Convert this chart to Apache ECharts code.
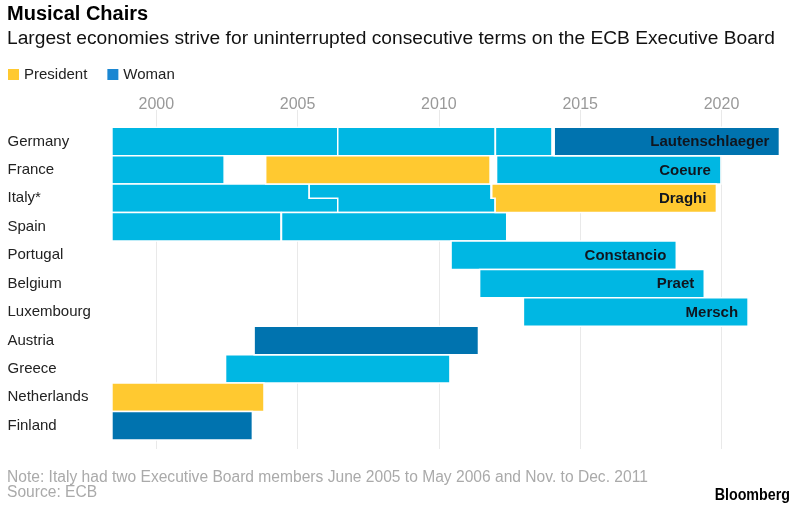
<!DOCTYPE html>
<html>
<head>
<meta charset="utf-8">
<script src="https://cdn.jsdelivr.net/npm/echarts@6/dist/echarts.min.js"></script>
<style>html,body{margin:0;padding:0;background:#fff}#c{width:800px;height:508px}</style>
</head>
<body>
<div id="c"></div>
<script>
const countries = ['Germany','France','Italy*','Spain','Portugal','Belgium','Luxembourg','Austria','Greece','Netherlands','Finland'];
const yearTicks = [2000, 2005, 2010, 2015, 2020];
// one entry per board member term
const segRow    = [0, 0, 0, 0, 1, 1, 1, 2, 2, 2, 3, 3, 4, 5, 6, 7, 8, 9, 10];
const segStart  = [1998.43, 2006.42, 2012.0, 2014.08, 1998.43, 2003.87, 2012.04, 1998.43, 2005.41, 2011.87, 1998.43, 2004.43, 2010.43, 2011.44, 2012.99, 2003.46, 2002.45, 1998.43, 1998.43];
const segEnd    = [2006.42, 2011.99, 2014.0, 2022.05, 2002.4, 2011.81, 2019.98, 2005.41, 2011.84, 2019.82, 2004.41, 2012.4, 2018.4, 2019.39, 2020.94, 2011.4, 2010.39, 2003.81, 2003.4];
// Italy overlaps: lower half of the row may start/end at other dates (null = same as upper half)
const segStartLow = [null, null, null, null, null, null, null, null, 2006.42, 2011.99, null, null, null, null, null, null, null, null, null];
const segEndLow   = [null, null, null, null, null, null, null, 2006.42, 2011.99, null, null, null, null, null, null, null, null, null, null];
const segRole   = ['m','m','m','w','m','p','m','m','m','p','m','m','m','m','m','w','m','p','w'];
const segLabel  = ['','','','Lautenschlaeger','','','Coeure','','','Draghi','','','Constancio','Praet','Mersch','','','',''];

const COLORS = { m: '#00B7E3', p: '#FFC930', w: '#0073AF' };

function dataFor(role) {
  const out = [];
  for (let i = 0; i < segRow.length; i++) {
    if (segRole[i] !== role) continue;
    const s = segStart[i], e = segEnd[i];
    const sl = segStartLow[i] == null ? s : segStartLow[i];
    const el = segEndLow[i] == null ? e : segEndLow[i];
    out.push([s, segRow[i], e, sl, el, segLabel[i]]);
  }
  return out;
}

function renderItem(params, api) {
  const row = api.value(1);
  const pS = api.coord([api.value(0), row]);
  const pE = api.coord([api.value(2), row]);
  const pSL = api.coord([api.value(3), row]);
  const pEL = api.coord([api.value(4), row]);
  const h = api.size([0, 1])[1];
  const yc = pS[1];
  const top = yc - h / 2, bot = yc + h / 2;
  const color = api.visual('color');
  const children = [{
    type: 'polygon',
    shape: { points: [
      [pS[0], top], [pE[0], top], [pE[0], yc], [pEL[0], yc], [pEL[0], bot],
      [pSL[0], bot], [pSL[0], yc], [pS[0], yc]
    ] },
    style: { fill: color, stroke: '#fff', lineWidth: 1.5 }
  }];
  const label = api.value(5);
  if (label) {
    children.push({
      type: 'text',
      style: {
        text: label, x: Math.min(pE[0], pEL[0]) - 10, y: yc + 0.5,
        align: 'right', verticalAlign: 'middle',
        font: 'bold 15px "Liberation Sans", Arial, sans-serif', fill: '#10161f'
      }
    });
  }
  return { type: 'group', children: children };
}

function customSeries(name, role) {
  return {
    type: 'custom', name: name, renderItem: renderItem,
    itemStyle: { color: COLORS[role] },
    encode: { x: [0, 2, 3, 4], y: 1 },
    data: dataFor(role), animation: false, silent: true
  };
}

const chart = echarts.init(document.getElementById('c'), null, { renderer: 'canvas' });
const FONT = '"Liberation Sans", Arial, sans-serif';
chart.setOption({
  animation: false,
  textStyle: { fontFamily: FONT },
  legend: {
    data: [{ name: 'President', itemStyle: { color: '#FFC930' } }, { name: 'Woman', itemStyle: { color: '#1B87D2' } }],
    left: 3, top: 62, icon: 'rect', itemWidth: 11, itemHeight: 11, itemGap: 20,
    textStyle: { fontSize: 15, color: '#222', fontFamily: FONT }, selectedMode: false
  },
  grid: { left: 99.8, right: 13.5, top: 110, bottom: 59 },
  xAxis: {
    type: 'value', position: 'top', min: 1998, max: 2022.3,
    axisLine: { show: false },
    axisTick: { show: false, customValues: yearTicks },
    axisLabel: { customValues: yearTicks, formatter: v => String(v), color: '#999', fontSize: 16, margin: -3, fontFamily: FONT },
    splitLine: { show: true, lineStyle: { color: '#e9e9e9', width: 1 } }
  },
  yAxis: {
    type: 'value', inverse: true, min: -1.108, max: 10.82,
    axisLine: { show: false }, axisTick: { show: false, customValues: countries.map((c, i) => i) },
    splitLine: { show: false },
    axisLabel: {
      customValues: countries.map((c, i) => i),
      formatter: v => countries[Math.round(v)] || '',
      align: 'left', margin: 92.3, color: '#222', fontSize: 15, fontFamily: FONT
    }
  },
  graphic: [
    { type: 'text', x: 7, y: 14, style: { text: 'Musical Chairs', font: 'bold 20px ' + FONT, fill: '#000', verticalAlign: 'middle' } },
    { type: 'text', x: 7, y: 39, style: { text: 'Largest economies strive for uninterrupted consecutive terms on the ECB Executive Board', font: '19.2px ' + FONT, fill: '#111', verticalAlign: 'middle' } },
    { type: 'text', x: 7, y: 478, style: { text: 'Note: Italy had two Executive Board members June 2005 to May 2006 and Nov. to Dec. 2011', font: '15.6px ' + FONT, fill: '#aaa', verticalAlign: 'middle' } },
    { type: 'text', x: 7, y: 493, style: { text: 'Source: ECB', font: '15.6px ' + FONT, fill: '#aaa', verticalAlign: 'middle' } },
    { type: 'text', x: 790, y: 495, scaleX: 0.84, style: { text: 'Bloomberg', font: 'bold 17px ' + FONT, fill: '#000', align: 'right', verticalAlign: 'middle' } }
  ],
  series: [
    customSeries('Man', 'm'),
    customSeries('President', 'p'),
    customSeries('Woman', 'w')
  ]
});
</script>
</body>
</html>
